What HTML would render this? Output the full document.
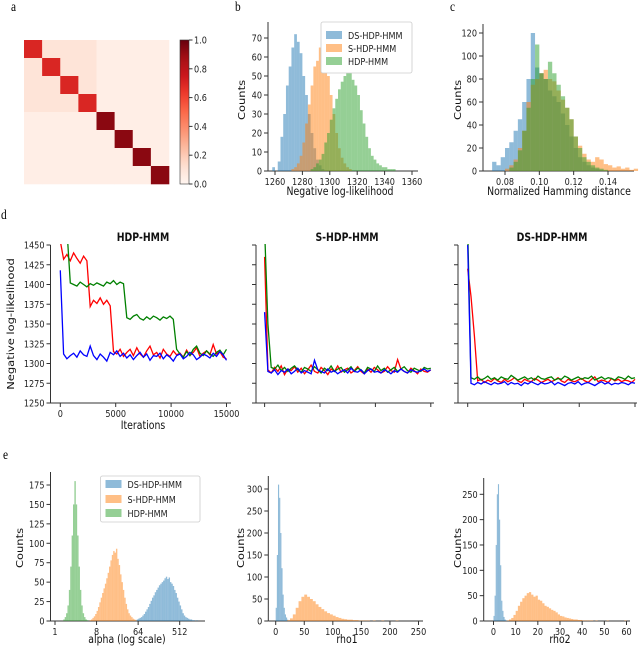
<!DOCTYPE html>
<html><head><meta charset="utf-8">
<style>
html,body{margin:0;padding:0;background:#fff;}
svg{display:block;font-family:"DejaVu Sans","Liberation Sans",sans-serif;}
.t{font-size:10px;fill:#222;}
.l{font-size:11.5px;fill:#111;}
.p{font-family:"Liberation Serif",serif;font-size:14px;fill:#000;}
</style></head>
<body>
<svg id="fig" width="640" height="647" viewBox="0 0 640 647" xmlns="http://www.w3.org/2000/svg"></svg>
<script>
// ---------- data ----------
const heatDiag = [0.7,0.7,0.7,0.7,0.93,0.93,0.93,0.93];
const heatOffA = 0.1, heatOffB = 0.04;

const bStart = [1258,1272,1286];
const bWidth = 2;
const bBlue = [2,0,5,18,30,45,55,65,72,68,62,50,40,30,20,12,6,3,1,0];
const bOrange = [1,2,4,8,15,25,35,45,55,58,65,62,60,50,40,30,20,12,7,4,2,1];
const bGreen = [1,2,4,6,9,15,20,27,33,38,43,47,50,53,52,48,45,40,32,25,18,12,8,6,4,3,2,2,1,1,1];

const cStart = 0.0725, cWidth = 0.0025;
const cBlue = [8,5,12,20,25,35,45,60,80,120,90,85,80,70,65,60,50,40,30,20,12,8,5,3,2,1];
const cOrange = [0,0,0,2,5,10,20,35,60,75,80,85,88,80,78,70,62,55,45,30,22,15,10,8,12,10,6,5,3,4,2,3,1,2];
const cGreen = [0,0,0,0,3,8,18,35,55,80,110,85,80,95,85,75,65,55,45,30,20,12,8,5,3,2,1];

const iterStep = 300;
const hdpRed = [1455,1432,1438,1430,1440,1433,1427,1436,1430,1372,1380,1376,1383,1375,1380,1373,1315,1312,1318,1309,1314,1318,1310,1320,1312,1308,1316,1322,1311,1314,1307,1318,1312,1309,1316,1311,1313,1308,1317,1310,1314,1320,1309,1313,1316,1311,1324,1312,1315,1308,1306];
const hdpGreen = [1470,1470,1470,1402,1400,1398,1403,1400,1397,1401,1399,1402,1400,1398,1403,1401,1405,1400,1403,1401,1358,1356,1360,1362,1357,1355,1359,1356,1360,1358,1355,1359,1357,1360,1356,1318,1312,1308,1315,1310,1318,1322,1313,1310,1316,1312,1309,1314,1317,1311,1318];
const hdpBlue = [1418,1312,1306,1310,1313,1308,1316,1311,1309,1322,1310,1305,1312,1308,1303,1314,1311,1316,1309,1313,1307,1311,1305,1310,1314,1308,1312,1304,1310,1309,1313,1306,1311,1308,1303,1310,1312,1306,1309,1314,1311,1305,1308,1312,1310,1307,1313,1309,1315,1311,1304];
const sRed = [1435,1292,1288,1295,1290,1297,1286,1293,1291,1296,1289,1294,1287,1292,1298,1290,1288,1295,1291,1286,1293,1290,1297,1289,1292,1294,1288,1291,1296,1290,1287,1293,1289,1295,1292,1288,1290,1296,1291,1289,1305,1293,1290,1288,1294,1291,1287,1293,1290,1289,1292];
const sGreen = [1470,1350,1295,1293,1298,1291,1295,1290,1294,1297,1292,1289,1295,1293,1290,1296,1292,1288,1294,1291,1297,1290,1293,1295,1289,1292,1296,1290,1294,1292,1288,1295,1293,1290,1297,1291,1294,1289,1292,1295,1290,1293,1296,1291,1289,1294,1292,1290,1295,1293,1294];
const sBlue = [1365,1290,1288,1292,1286,1291,1289,1293,1287,1290,1294,1288,1291,1289,1287,1304,1292,1290,1288,1293,1289,1291,1287,1290,1292,1288,1294,1290,1289,1292,1287,1291,1293,1289,1290,1288,1292,1290,1287,1291,1289,1293,1290,1288,1292,1290,1289,1291,1293,1290,1292];
const dsRed = [1420,1385,1335,1278,1280,1276,1279,1277,1281,1278,1276,1280,1277,1279,1282,1278,1276,1280,1278,1277,1281,1279,1276,1278,1280,1277,1279,1282,1278,1276,1280,1278,1277,1279,1281,1278,1276,1280,1283,1277,1279,1278,1276,1281,1278,1280,1277,1279,1278,1276,1280];
const dsGreen = [1470,1282,1280,1283,1279,1281,1284,1280,1282,1279,1283,1281,1280,1285,1282,1279,1281,1283,1280,1282,1279,1284,1281,1280,1282,1283,1279,1281,1280,1284,1282,1279,1281,1283,1280,1282,1281,1284,1279,1281,1283,1280,1282,1281,1279,1283,1282,1280,1284,1281,1282];
const dsBlue = [1450,1275,1273,1276,1274,1277,1275,1273,1276,1274,1275,1277,1273,1276,1274,1275,1272,1276,1274,1277,1275,1273,1276,1274,1275,1277,1273,1276,1274,1272,1275,1276,1274,1277,1273,1275,1276,1274,1272,1275,1277,1274,1276,1273,1275,1274,1276,1275,1273,1276,1275];

// alpha (log2 units)
const aStart = [5.8,2.5,0.6], aWidth = 0.1;
const aBlue = [1,2,3,4,5,7,9,12,15,18,22,26,30,33,37,40,43,46,48,50,52,55,57,54,56,50,48,45,40,36,30,25,20,15,10,7,5,4,3,2,2,1,1,0,1];
const aOrange = [1,2,4,6,9,13,18,24,30,36,42,48,55,62,70,78,85,90,88,93,80,72,60,50,40,30,22,15,10,7,5,3,2,1];
const aGreen = [2,5,10,20,40,70,110,150,180,150,110,70,40,20,10,5,2,1];

const r1BlueStart = 0, r1BlueWidth = 2;
const r1Blue = [30,150,310,280,200,120,60,30,15,8,3,1];
const r1OrangeStart = 20, r1OrangeWidth = 5;
const r1Orange = [2,6,15,30,45,55,60,55,50,45,38,32,27,22,18,15,12,9,7,5,4,3,3,2,2,1,1,1,1,0,1,0,0,1,0,0,0,0,1];
const r2BlueStart = 0, r2BlueWidth = 0.5;
const r2Blue = [10,50,150,250,270,200,110,40,20,8,3,1];
const r2OrangeStart = 6, r2OrangeWidth = 1;
const r2Orange = [1,3,6,12,20,30,38,45,50,55,57,52,48,50,42,40,35,30,28,25,22,20,17,13,10,9,7,6,5,4,3,3,2,2,1,1,1,1,1,0,1,0,0,0,0,1,0,0,0,0,0,0,0,1];

const legendNames = ["DS-HDP-HMM","S-HDP-HMM","HDP-HMM"];
const histColors = ["#1f77b4","#ff7f0e","#2ca02c"];

// ---------- helpers ----------
const NS="http://www.w3.org/2000/svg";
const svg=document.getElementById('fig');
const SQ=0.8125;
function mk(tag,attrs,parent){const e=document.createElementNS(NS,tag);for(const k in attrs)e.setAttribute(k,attrs[k]);(parent||svg).appendChild(e);return e;}
function lin(d0,d1,r0,r1){return v=>r0+(v-d0)*(r1-r0)/(d1-d0);}
function txt(x,y,s,cls,anchor,name,parent,rot){
  const t=mk('text',{x:0,y:0,class:cls,'text-anchor':anchor||'middle',
    transform:'translate('+x+','+y+') scale('+SQ+',1)'+(rot?' rotate(-90)':'')},parent);
  t.textContent=s;
  
  
  return t;}
function grp(name){const g=mk('g',{});


return g;}

function axes(name,o){
  const g=grp(name);
  mk('line',{x1:o.sx,y1:o.top,x2:o.sx,y2:o.sy,stroke:'#333','stroke-width':1},g);
  mk('line',{x1:o.sx,y1:o.sy,x2:o.right,y2:o.sy,stroke:'#333','stroke-width':1},g);
  o.xt.forEach((v,i)=>{const x=o.X(v);mk('line',{x1:x,y1:o.sy,x2:x,y2:o.sy+4,stroke:'#333'},g);
    if(o.xl) txt(x,o.sy+14,o.xl[i],'t','middle','x-tick-label',g);});
  o.yt.forEach((v,i)=>{const y=o.Y(v);mk('line',{x1:o.sx,y1:y,x2:o.sx-4,y2:y,stroke:'#333'},g);
    if(o.yl) txt(o.sx-6,y+3.5,o.yl[i],'t','end','y-tick-label',g);});
  return g;
}
function hist(name,X,Y,start,width,counts,color){
  const g=grp(name);
  counts.forEach((c,i)=>{if(c<=0)return;const x0=X(start+i*width),x1=X(start+(i+1)*width);
    const r=mk('rect',{x:x0,y:Y(c),width:Math.max(0.3,x1-x0),height:Y(0)-Y(c),fill:color,'fill-opacity':0.5},g);
    
    
  });
}
function trace(name,X,Y,vals,color,clipId){
  const pts=vals.map((v,i)=>X(i*iterStep).toFixed(1)+','+Y(v).toFixed(1)).join(' ');
  const p=mk('polyline',{points:pts,fill:'none',stroke:color,'stroke-width':1.3,'clip-path':'url(#'+clipId+')'});
  
  
}
function legend(x,y,w,h,rows){
  const g=grp('legend');
  mk('rect',{x:x,y:y,width:w,height:h,fill:'#fff',stroke:'#ccc','stroke-width':0.8,rx:2},g);
  legendNames.forEach((n,i)=>{const cy=rows[i];
    mk('rect',{x:x+5,y:cy-4,width:16,height:8,fill:histColors[i],'fill-opacity':0.5},g);
    txt(x+27,cy+4,n,'t','start','legend-entry',g);});
}
const range=(a,b,s)=>{const r=[];for(let v=a;v<=b+1e-9;v+=s)r.push(+v.toFixed(6));return r;};

// ---------- panel letters ----------
[['a',11,11],['b',235,11],['c',450,11],['d',1,219],['e',3,459]].forEach(p=>txt(p[1],p[2],p[0],'p','start','panel-label-'+p[0]));

// ---------- panel a: heatmap ----------
const redsStops=[[0,[255,245,240]],[0.125,[254,224,210]],[0.25,[252,187,161]],[0.375,[252,146,114]],[0.5,[251,106,74]],[0.625,[239,59,44]],[0.75,[203,24,29]],[0.875,[165,15,21]],[1,[103,0,13]]];
function reds(v){for(let i=1;i<redsStops.length;i++){if(v<=redsStops[i][0]){const a=redsStops[i-1],b=redsStops[i],t=(v-a[0])/(b[0]-a[0]);
  return 'rgb('+a[1].map((c,k)=>Math.round(c+(b[1][k]-c)*t)).join(',')+')';}}return 'rgb(103,0,13)';}
(function(){
  const g=grp('heatmap');const x0=24,y0=40,cw=145/8,ch=144/8;
  for(let r=0;r<8;r++)for(let c=0;c<8;c++){
    const v=r===c?heatDiag[r]:(r<4&&c<4?heatOffA:heatOffB);
    const cell=mk('rect',{x:x0+c*cw,y:y0+r*ch,width:cw+0.3,height:ch+0.3,fill:reds(v)},g);
    
    
  }
  const cb=grp('colorbar');
  const defs=mk('defs',{});const lg=mk('linearGradient',{id:'cbg',x1:0,y1:1,x2:0,y2:0},defs);
  for(let i=0;i<=20;i++)mk('stop',{offset:i/20,'stop-color':reds(i/20)},lg);
  mk('rect',{x:180,y:40,width:9,height:144,fill:'url(#cbg)',stroke:'#333','stroke-width':0.6},cb);
  const Yc=lin(0,1,184,40);
  [0,0.2,0.4,0.6,0.8,1.0].forEach(v=>{mk('line',{x1:189,y1:Yc(v),x2:192.5,y2:Yc(v),stroke:'#333'},cb);
    txt(194,Yc(v)+3.5,v.toFixed(1),'t','start','colorbar-tick-label',cb);});
})();

// ---------- panel b ----------
(function(){
  const X=lin(1260,1360,275,412),Y=lin(0,70,171,38);
  const xt=range(1260,1360,20),yt=range(0,70,10);
  axes('panel-b-axes',{X,Y,sx:268,sy:171,top:22,right:418,xt,xl:xt.map(String),yt,yl:yt.map(String)});
  hist('hist-b-ds',X,Y,bStart[0],bWidth,bBlue,histColors[0]);
  hist('hist-b-s',X,Y,bStart[1],bWidth,bOrange,histColors[1]);
  hist('hist-b-hdp',X,Y,bStart[2],bWidth,bGreen,histColors[2]);
  legend(321,22,91,51,[35,48,61]);
  txt(340,195,'Negative log-likelihood','l','middle','x-axis-title-b');
  txt(245,100,'Counts','l','middle','y-axis-title-b',null,true);
})();

// ---------- panel c ----------
(function(){
  const X=lin(0.08,0.14,505,608),Y=lin(0,120,171,33);
  const xt=[0.08,0.10,0.12,0.14],yt=range(0,120,20);
  axes('panel-c-axes',{X,Y,sx:483,sy:171,top:24,right:634,xt,xl:xt.map(v=>v.toFixed(2)),yt,yl:yt.map(String)});
  hist('hist-c-ds',X,Y,cStart,cWidth,cBlue,histColors[0]);
  hist('hist-c-s',X,Y,cStart,cWidth,cOrange,histColors[1]);
  hist('hist-c-hdp',X,Y,cStart,cWidth,cGreen,histColors[2]);
  txt(559,195,'Normalized Hamming distance','l','middle','x-axis-title-c');
  txt(461,100,'Counts','l','middle','y-axis-title-c',null,true);
})();

// ---------- panel d ----------
(function(){
  const Y=lin(1250,1450,403,245);
  const yt=range(1250,1450,25),xt=[0,5000,10000,15000];
  const cfg=[
    {sx:50.5,x0:60.3,x1:226.5,right:231,title:'HDP-HMM',tc:143,sets:[hdpRed,hdpGreen,hdpBlue],lab:true,nm:'hdp'},
    {sx:256,x0:264.6,x1:430.8,right:434,title:'S-HDP-HMM',tc:347,sets:[sRed,sGreen,sBlue],lab:false,nm:'s-hdp'},
    {sx:458,x0:467.7,x1:635,right:637,title:'DS-HDP-HMM',tc:552,sets:[dsRed,dsGreen,dsBlue],lab:false,nm:'ds-hdp'}];
  const defs=mk('defs',{});
  cfg.forEach((c,k)=>{
    const X=lin(0,15000,c.x0,c.x1);
    const cp=mk('clipPath',{id:'clipd'+k},defs);mk('rect',{x:c.sx,y:244,width:c.right-c.sx,height:160},cp);
    axes('trace-axes-'+c.nm,{X,Y,sx:c.sx,sy:403,top:245,right:c.right,xt,xl:c.lab?xt.map(String):null,yt,yl:c.lab?yt.map(String):null});
    const t=txt(c.tc,241,c.title,'l','middle','trace-title-'+c.nm);t.setAttribute('font-weight','bold');
    trace('trace-'+c.nm+'-red',X,Y,c.sets[0],'#ff0000','clipd'+k);
    trace('trace-'+c.nm+'-green',X,Y,c.sets[1],'#008000','clipd'+k);
    trace('trace-'+c.nm+'-blue',X,Y,c.sets[2],'#0000ff','clipd'+k);
  });
  txt(143,429,'Iterations','l','middle','x-axis-title-d');
  txt(14,324,'Negative log-likelihood','l','middle','y-axis-title-d',null,true);
})();

// ---------- panel e ----------
(function(){
  const X=lin(0,9,55,179.7),Y=lin(0,175,621,485);
  const xt=[0,3,6,9],yt=range(0,175,25);
  axes('panel-e-alpha-axes',{X,Y,sx:50.5,sy:621,top:472,right:205,xt,xl:['1','8','64','512'],yt,yl:yt.map(String)});
  hist('hist-alpha-ds',X,Y,aStart[0],aWidth,aBlue,histColors[0]);
  hist('hist-alpha-s',X,Y,aStart[1],aWidth,aOrange,histColors[1]);
  hist('hist-alpha-hdp',X,Y,aStart[2],aWidth,aGreen,histColors[2]);
  legend(100.5,476,99.5,46,[484,499,513]);
  txt(127,643,'alpha (log scale)','l','middle','x-axis-title-alpha');
  txt(23,548,'Counts','l','middle','y-axis-title-alpha',null,true);
})();
(function(){
  const X=lin(0,250,275.7,418.5),Y=lin(0,300,621,489);
  const xt=range(0,250,50),yt=range(0,300,50);
  axes('panel-e-rho1-axes',{X,Y,sx:268.3,sy:621,top:476,right:423,xt,xl:xt.map(String),yt,yl:yt.map(String)});
  hist('hist-rho1-ds',X,Y,r1BlueStart,r1BlueWidth,r1Blue,histColors[0]);
  hist('hist-rho1-s',X,Y,r1OrangeStart,r1OrangeWidth,r1Orange,histColors[1]);
  txt(347,643,'rho1','l','middle','x-axis-title-rho1');
  txt(244,548,'Counts','l','middle','y-axis-title-rho1',null,true);
})();
(function(){
  const X=lin(0,60,493.5,626.5),Y=lin(0,250,621,494.3);
  const xt=range(0,60,10),yt=range(0,250,50);
  axes('panel-e-rho2-axes',{X,Y,sx:483.7,sy:621,top:478,right:630,xt,xl:xt.map(String),yt,yl:yt.map(String)});
  hist('hist-rho2-ds',X,Y,r2BlueStart,r2BlueWidth,r2Blue,histColors[0]);
  hist('hist-rho2-s',X,Y,r2OrangeStart,r2OrangeWidth,r2Orange,histColors[1]);
  txt(560,643,'rho2','l','middle','x-axis-title-rho2');
  txt(461,548,'Counts','l','middle','y-axis-title-rho2',null,true);
})();
</script>
</body></html>
